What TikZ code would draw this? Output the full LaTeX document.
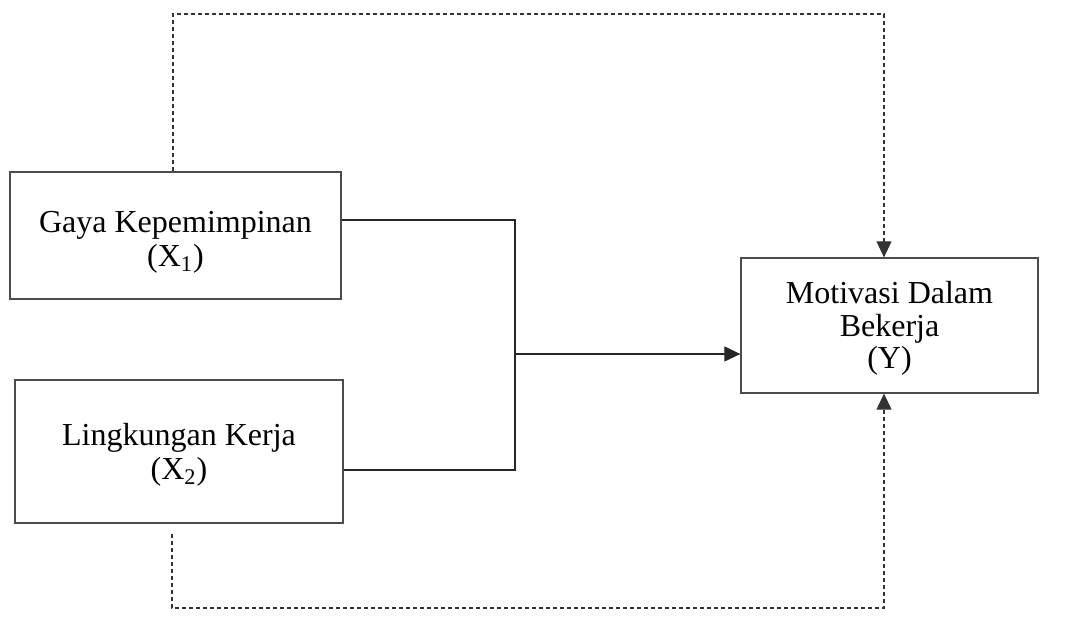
\documentclass[tikz,border=0pt]{standalone}
\usepackage{fontspec}
\setmainfont{Liberation Serif}
\usetikzlibrary{arrows.meta}
\tikzset{
  varbox/.style={draw=black!70, line width=0.65pt, align=center, inner sep=0pt,
    font=\fontsize{16}{17}\selectfont},
  link/.style={draw=black!85, line width=0.6pt},
  dashlink/.style={draw=black!80, line width=0.55pt, dash pattern=on 2pt off 1.5pt},
  tip/.style={-{Triangle[width=7.5pt,length=8pt]}}
}
\begin{document}
\begin{tikzpicture}[x=0.5pt,y=-0.5pt]
        \useasboundingbox (0,0) rectangle (1070,624);
        %% Variables
        \node[varbox, minimum width=165.5pt, minimum height=63.5pt] (x1) at (175.5,235.5)
            {\rule{0pt}{17pt}Gaya Kepemimpinan\\(X\textsubscript{1})};
        \node[varbox, minimum width=164pt, minimum height=71.5pt] (x2) at (179,451.5)
            {\rule{0pt}{14pt}Lingkungan Kerja\\(X\textsubscript{2})};
        \node[varbox, minimum width=148.5pt, minimum height=67.5pt,
            font=\fontsize{16}{16.2}\selectfont] (y) at (889.5,325.5)
            {\rule{0pt}{14pt}Motivasi Dalam\\Bekerja\\(Y)};
        %% Simultaneous path
        \coordinate (j1) at (515,220);
        \coordinate (j2) at (515,470);
        \coordinate (jm) at (515,354);
        \draw[link] (x1.east |- j1) -- (j1) -- (j2) -- (x2.east |- j2);
        \draw[link,tip] (jm) -- (y.west |- jm);
        %% Partial paths
        \coordinate (t1) at (173,14);
        \coordinate (t2) at (884,14);
        \draw[dashlink,tip] (x1.north -| t1) -- (t1) -- (t2) -- (y.north -| t2);
        \coordinate (b0) at (172,534);
        \coordinate (b1) at (172,608);
        \coordinate (b2) at (884,608);
        \draw[dashlink,tip] (b0) -- (b1) -- (b2) -- (y.south -| b2);
    \end{tikzpicture}
\end{document}
